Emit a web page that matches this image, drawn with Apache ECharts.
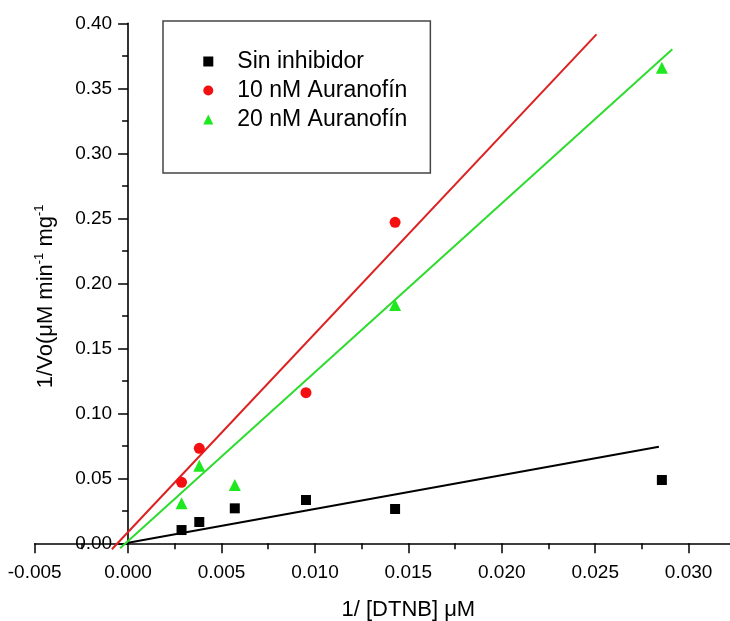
<!DOCTYPE html>
<html>
<head>
<meta charset="utf-8">
<script src="https://cdn.jsdelivr.net/npm/echarts@6/dist/echarts.min.js"></script>
<style>html,body{margin:0;padding:0;background:#fff;}#c{width:730px;height:621px;}</style>
</head>
<body>
<div id="c"></div>
<script>
// ---- data ----
const seriesNames = ['Sin inhibidor', '10 nM Auranofín', '20 nM Auranofín'];
const xSin = [0.00286, 0.00381, 0.00571, 0.00952, 0.01429, 0.02857];
const ySin = [0.0102, 0.0164, 0.0269, 0.0333, 0.0264, 0.0487];
const x10 = [0.00286, 0.00381, 0.00952, 0.01429];
const y10 = [0.0469, 0.0731, 0.1159, 0.2469];
const x20 = [0.00286, 0.00381, 0.00571, 0.01429, 0.02857];
const y20 = [0.0308, 0.0597, 0.0449, 0.1833, 0.3659];
// fitted straight lines: [x start, x end], [y start, y end]
const fitSinX = [0.0, 0.02841];
const fitSinY = [0.0005, 0.0743];
const fit10X = [-0.00087, 0.02507];
const fit10Y = [-0.0046, 0.3915];
const fit20X = [-0.00043, 0.02913];
const fit20Y = [-0.0038, 0.3800];
// axes
const xMin = -0.005, xMax = 0.035, xStep = 0.005;
const yMin = 0, yMax = 0.40, yStep = 0.05;

const pair = (xs, ys) => xs.map((x, i) => [x, ys[i]]);

const FONT = 'Liberation Sans, Arial, Helvetica, sans-serif';
const gridLeft = 34.7, gridRight = -52, W = 730;
const gridWidth = W - gridLeft - gridRight;
const yAxisOffset = -((0 - xMin) / (xMax - xMin)) * gridWidth;

const chart = echarts.init(document.getElementById('c'), null, {renderer: 'canvas'});
const axisCommon = {
  axisTick: {show: true, inside: false, length: 10, lineStyle: {color: '#000', width: 1.5}},
  minorTick: {show: true, splitNumber: 2, length: 6, lineStyle: {color: '#000', width: 1.5}},
  splitLine: {show: false},
  minorSplitLine: {show: false}
};
chart.setOption({
  animation: false,
  backgroundColor: '#fff',
  grid: {left: gridLeft, right: gridRight, top: 23.3, bottom: 77.7, containLabel: false, outerBoundsMode: 'none'},
  legend: {
    data: seriesNames,
    orient: 'vertical',
    left: 163, top: 21,
    padding: [28.5, 23, 41.5, 40.3],
    itemWidth: 10, itemHeight: 10, itemGap: 5,
    borderColor: '#444', borderWidth: 1.5, backgroundColor: '#fff',
    textStyle: {fontFamily: FONT, fontSize: 23, color: '#000', lineHeight: 24, padding: [0, 0, 0, 19]},
    selectedMode: false
  },
  xAxis: Object.assign({}, axisCommon, {
    type: 'value', min: xMin, max: xMax, interval: xStep,
    axisLine: {show: true, onZero: true, lineStyle: {color: '#000', width: 1.6}},
    axisLabel: {
      fontFamily: FONT, fontSize: 19, color: '#000', margin: 20,
      formatter: v => (Math.abs(v / xStep - Math.round(v / xStep)) < 1e-6 && v < 0.0326) ? v.toFixed(3) : ''
    },
    name: '1/ [DTNB] \u03bcM', nameLocation: 'middle', nameGap: 56, nameMoveOverlap: false,
    nameTextStyle: {fontFamily: FONT, fontSize: 22, color: '#000'}
  }),
  yAxis: Object.assign({}, axisCommon, {
    type: 'value', min: yMin, max: yMax, interval: yStep,
    position: 'left', offset: yAxisOffset,
    axisLine: {show: true, onZero: false, lineStyle: {color: '#000', width: 1.6}},
    axisLabel: {fontFamily: FONT, fontSize: 19, color: '#000', margin: 16, formatter: v => v.toFixed(2)},
    name: '1/Vo(\u03bcM min{s|-1} mg{s|-1}', nameLocation: 'middle', nameGap: 69, nameRotate: 90, nameMoveOverlap: false,
    nameTextStyle: {fontFamily: FONT, fontSize: 22, color: '#000', lineHeight: 26, padding: [0, 26, 0, 0],
      rich: {s: {fontFamily: FONT, fontSize: 13, color: '#000', verticalAlign: 'top', lineHeight: 26, padding: [0, 0, 10, 0]}}}
  }),
  series: [
    {type: 'line', name: 'fitSin', data: pair(fitSinX, fitSinY), showSymbol: false, clip: false,
     lineStyle: {color: '#000', width: 2}, z: 2, silent: true},
    {type: 'line', name: 'fit10', data: pair(fit10X, fit10Y), showSymbol: false, clip: false,
     lineStyle: {color: '#dd2020', width: 2}, z: 2, silent: true},
    {type: 'line', name: 'fit20', data: pair(fit20X, fit20Y), showSymbol: false, clip: false,
     lineStyle: {color: '#2edc2e', width: 2}, z: 2, silent: true},
    {type: 'scatter', name: seriesNames[0], data: pair(xSin, ySin), symbol: 'rect', symbolSize: 10,
     itemStyle: {color: '#000', opacity: 1}, z: 3},
    {type: 'scatter', name: seriesNames[1], data: pair(x10, y10), symbol: 'circle', symbolSize: 11,
     itemStyle: {color: '#f41010', opacity: 1}, z: 3},
    {type: 'scatter', name: seriesNames[2], data: pair(x20, y20), symbol: 'triangle', symbolSize: 12,
     itemStyle: {color: '#1ee81e', opacity: 1}, z: 3}
  ]
});
</script>
</body>
</html>
